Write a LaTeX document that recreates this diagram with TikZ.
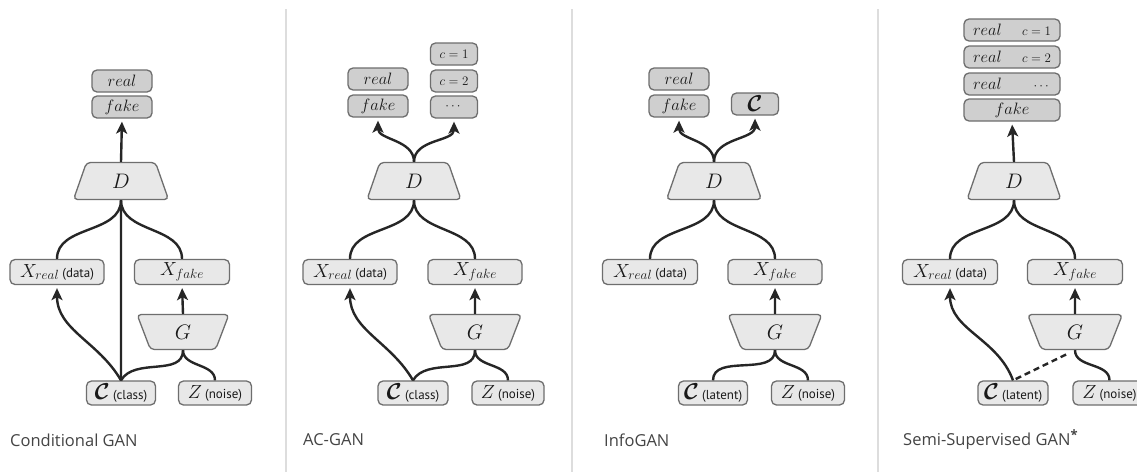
\RequirePackage{fix-cm}
\documentclass[tikz,border=0pt]{standalone}
\usepackage{amsmath,bm}
\usepackage{fontspec}
\newfontfamily\lab{PT Sans}
\newfontfamily\tfont{Open Sans}
\usetikzlibrary{shapes.geometric,arrows.meta}
\definecolor{bfill}{HTML}{E8E8E8}
\definecolor{ofill}{HTML}{CFCFCF}
\definecolor{bdraw}{HTML}{6E6E6E}
\definecolor{lnc}{HTML}{262626}
\definecolor{sepc}{HTML}{DDDDDD}
\definecolor{tit}{HTML}{444444}
\tikzset{
  box/.style={draw=bdraw, fill=bfill, line width=1.3pt, rounded corners=5pt, inner sep=0pt,
              minimum height=25pt, text=black!90, font=\fontsize{19}{22}\selectfont},
  obox/.style={box, fill=ofill, minimum height=22pt, font=\fontsize{16.5}{18}\selectfont},
  cbox/.style={obox, font=\fontsize{13}{15}\selectfont},
  net/.style={trapezium, trapezium stretches=true, trapezium angle=77, draw=bdraw, fill=bfill,
              line width=1.3pt, rounded corners=4pt, inner sep=0pt, minimum height=37pt,
              text=black!90, font=\fontsize{21}{24}\selectfont},
  gnet/.style={net, shape border rotate=180, minimum height=35pt},
  ln/.style={draw=lnc, line width=2.4pt},
  arr/.style={ln, -{Stealth[length=12pt,width=11pt,inset=3pt]}, shorten >=3pt},
  dsh/.style={ln, dash pattern=on 6pt off 4pt, shorten >=8pt, shorten <=3pt},
  ttl/.style={anchor=west, font=\tfont\fontsize{16.5}{20}\selectfont, text=tit, inner sep=0pt},
  sepl/.style={draw=sepc, line width=1.5pt}
}
\newcommand{\lbl}[1]{{\lab\fontsize{13}{15}\selectfont #1}}
\newcommand{\cc}{{\fontsize{23}{24}\selectfont$\bm{\mathcal{C}}$}}
\begin{document}
\begin{tikzpicture}[x=1pt,y=-1pt]
\useasboundingbox (0,0) rectangle (1137,472);
\fill[white] (0,0) rectangle (1137,472);
\draw[sepl] (286,9) -- (286,472);
\draw[sepl] (572,9) -- (572,472);
\draw[sepl] (878,9) -- (878,472);

% ---------- Panel 1: Conditional GAN
\node[obox, minimum width=60pt] (a-real) at (122,81) {$real$};
\node[obox, minimum width=60pt] (a-fake) at (122,107) {$fake$};
\node[net, minimum width=95pt] (a-D) at (121,181) {$D$};
\node[box, minimum width=94pt] (a-Xr) at (57,272) {$X_{real}$\,\lbl{(data)}};
\node[box, minimum width=95pt] (a-Xf) at (182,272) {$X_{fake}$};
\node[gnet, minimum width=92pt] (a-G) at (183,332) {$G$};
\node[box, minimum width=69pt, minimum height=24pt] (a-C) at (121,393) {\cc\,\lbl{(class)}};
\node[box, minimum width=73pt, minimum height=24pt] (a-Z) at (215,393) {$Z$\,\lbl{(noise)}};
\node[ttl] (a-t) at (10,440) {Conditional GAN};
\draw[arr] (a-D.north) -- (a-fake.south);
\draw[ln] (a-D.south) to[out=-90,in=90] (a-Xr.north);
\draw[ln] (a-D.south) to[out=-90,in=90] (a-Xf.north);
\draw[ln] (a-D.south) -- (a-C.north);
\draw[arr] (a-C.north) to[out=120,in=-90] (a-Xr.south);
\draw[ln] (a-C.north) to[out=60,in=-90] (a-G.south);
\draw[ln] (a-Z.north) to[out=90,in=-90] (a-G.south);
\draw[arr] (a-G.north) -- (a-Xf.south);

% ---------- Panel 2: AC-GAN
\node[obox, minimum width=60pt] (b-real) at (378,79) {$real$};
\node[obox, minimum width=60pt] (b-fake) at (378,106) {$fake$};
\node[cbox, minimum width=47pt] (b-c1) at (454,54) {$c=1$};
\node[cbox, minimum width=47pt] (b-c2) at (454,81) {$c=2$};
\node[cbox, minimum width=47pt] (b-cd) at (454,107) {$\cdots$};
\node[net, minimum width=94pt] (b-D) at (414,181) {$D$};
\node[box, minimum width=94pt] (b-Xr) at (350,272) {$X_{real}$\,\lbl{(data)}};
\node[box, minimum width=94pt] (b-Xf) at (475,272) {$X_{fake}$};
\node[gnet, minimum width=93pt] (b-G) at (475,332) {$G$};
\node[box, minimum width=70pt, minimum height=24pt] (b-C) at (413,393) {\cc\,\lbl{(class)}};
\node[box, minimum width=72pt, minimum height=24pt] (b-Z) at (508,393) {$Z$\,\lbl{(noise)}};
\node[ttl] (b-t) at (303,440) {AC-GAN};
\draw[arr] (b-D.north) to[out=90,in=-90] (b-fake.south);
\draw[arr] (b-D.north) to[out=90,in=-90] (b-cd.south);
\draw[ln] (b-D.south) to[out=-90,in=90] (b-Xr.north);
\draw[ln] (b-D.south) to[out=-90,in=90] (b-Xf.north);
\draw[arr] (b-C.north) to[out=120,in=-90] (b-Xr.south);
\draw[ln] (b-C.north) to[out=60,in=-90] (b-G.south);
\draw[ln] (b-Z.north) to[out=90,in=-90] (b-G.south);
\draw[arr] (b-G.north) -- (b-Xf.south);

% ---------- Panel 3: InfoGAN
\node[obox, minimum width=60pt] (c-real) at (679,79) {$real$};
\node[obox, minimum width=60pt] (c-fake) at (679,106) {$fake$};
\node[obox, minimum width=47pt] (c-Co) at (755,104) {\cc};
\node[net, minimum width=95pt] (c-D) at (714,181) {$D$};
\node[box, minimum width=95pt] (c-Xr) at (650,272) {$X_{real}$\,\lbl{(data)}};
\node[box, minimum width=94pt] (c-Xf) at (775,272) {$X_{fake}$};
\node[gnet, minimum width=94pt] (c-G) at (775,332) {$G$};
\node[box, minimum width=69pt, minimum height=24pt] (c-C) at (713,393) {\cc\,\lbl{(latent)}};
\node[box, minimum width=73pt, minimum height=24pt] (c-Z) at (808,393) {$Z$\,\lbl{(noise)}};
\node[ttl] (c-t) at (604,440) {InfoGAN};
\draw[arr] (c-D.north) to[out=90,in=-90] (c-fake.south);
\draw[arr] (c-D.north) to[out=90,in=-90] (c-Co.south);
\draw[ln] (c-D.south) to[out=-90,in=90] (c-Xr.north);
\draw[ln] (c-D.south) to[out=-90,in=90] (c-Xf.north);
\draw[ln] (c-C.north) to[out=90,in=-90] (c-G.south);
\draw[ln] (c-Z.north) to[out=90,in=-90] (c-G.south);
\draw[arr] (c-G.north) -- (c-Xf.south);

% ---------- Panel 4: Semi-Supervised GAN
\node[obox, minimum width=96pt, text width=78pt, align=left] (d-r1) at (1012,30)
  {$real$\hfill{\fontsize{13}{15}\selectfont$c=1$}};
\node[obox, minimum width=96pt, text width=78pt, align=left] (d-r2) at (1012,57)
  {$real$\hfill{\fontsize{13}{15}\selectfont$c=2$}};
\node[obox, minimum width=96pt, text width=78pt, align=left] (d-r3) at (1012,84)
  {$real$\hfill{\fontsize{13}{15}\selectfont$\cdots$\hspace{6pt}}};
\node[obox, minimum width=96pt] (d-fake) at (1012,110) {$fake$};
\node[net, minimum width=94pt] (d-D) at (1014,181) {$D$};
\node[box, minimum width=95pt] (d-Xr) at (950,272) {$X_{real}$\,\lbl{(data)}};
\node[box, minimum width=95pt] (d-Xf) at (1075,272) {$X_{fake}$};
\node[gnet, minimum width=95pt] (d-G) at (1075,332) {$G$};
\node[box, minimum width=70pt, minimum height=24pt] (d-C) at (1013,393) {\cc\,\lbl{(latent)}};
\node[box, minimum width=73pt, minimum height=24pt] (d-Z) at (1109.5,393) {$Z$\,\lbl{(noise)}};
\node[ttl] (d-t) at (903,440) {Semi-Supervised GAN\raisebox{6pt}{\fontsize{13}{13}\selectfont\bfseries *}};
\draw[arr] (d-D.north) -- (d-fake.south);
\draw[ln] (d-D.south) to[out=-90,in=90] (d-Xr.north);
\draw[ln] (d-D.south) to[out=-90,in=90] (d-Xf.north);
\draw[arr] (d-C.north) to[out=110,in=-90] (d-Xr.south);
\draw[dsh] (d-C.north) -- (d-G.south);
\draw[ln] (d-Z.north) to[out=90,in=-90] (d-G.south);
\draw[arr] (d-G.north) -- (d-Xf.south);
\end{tikzpicture}
\end{document}
